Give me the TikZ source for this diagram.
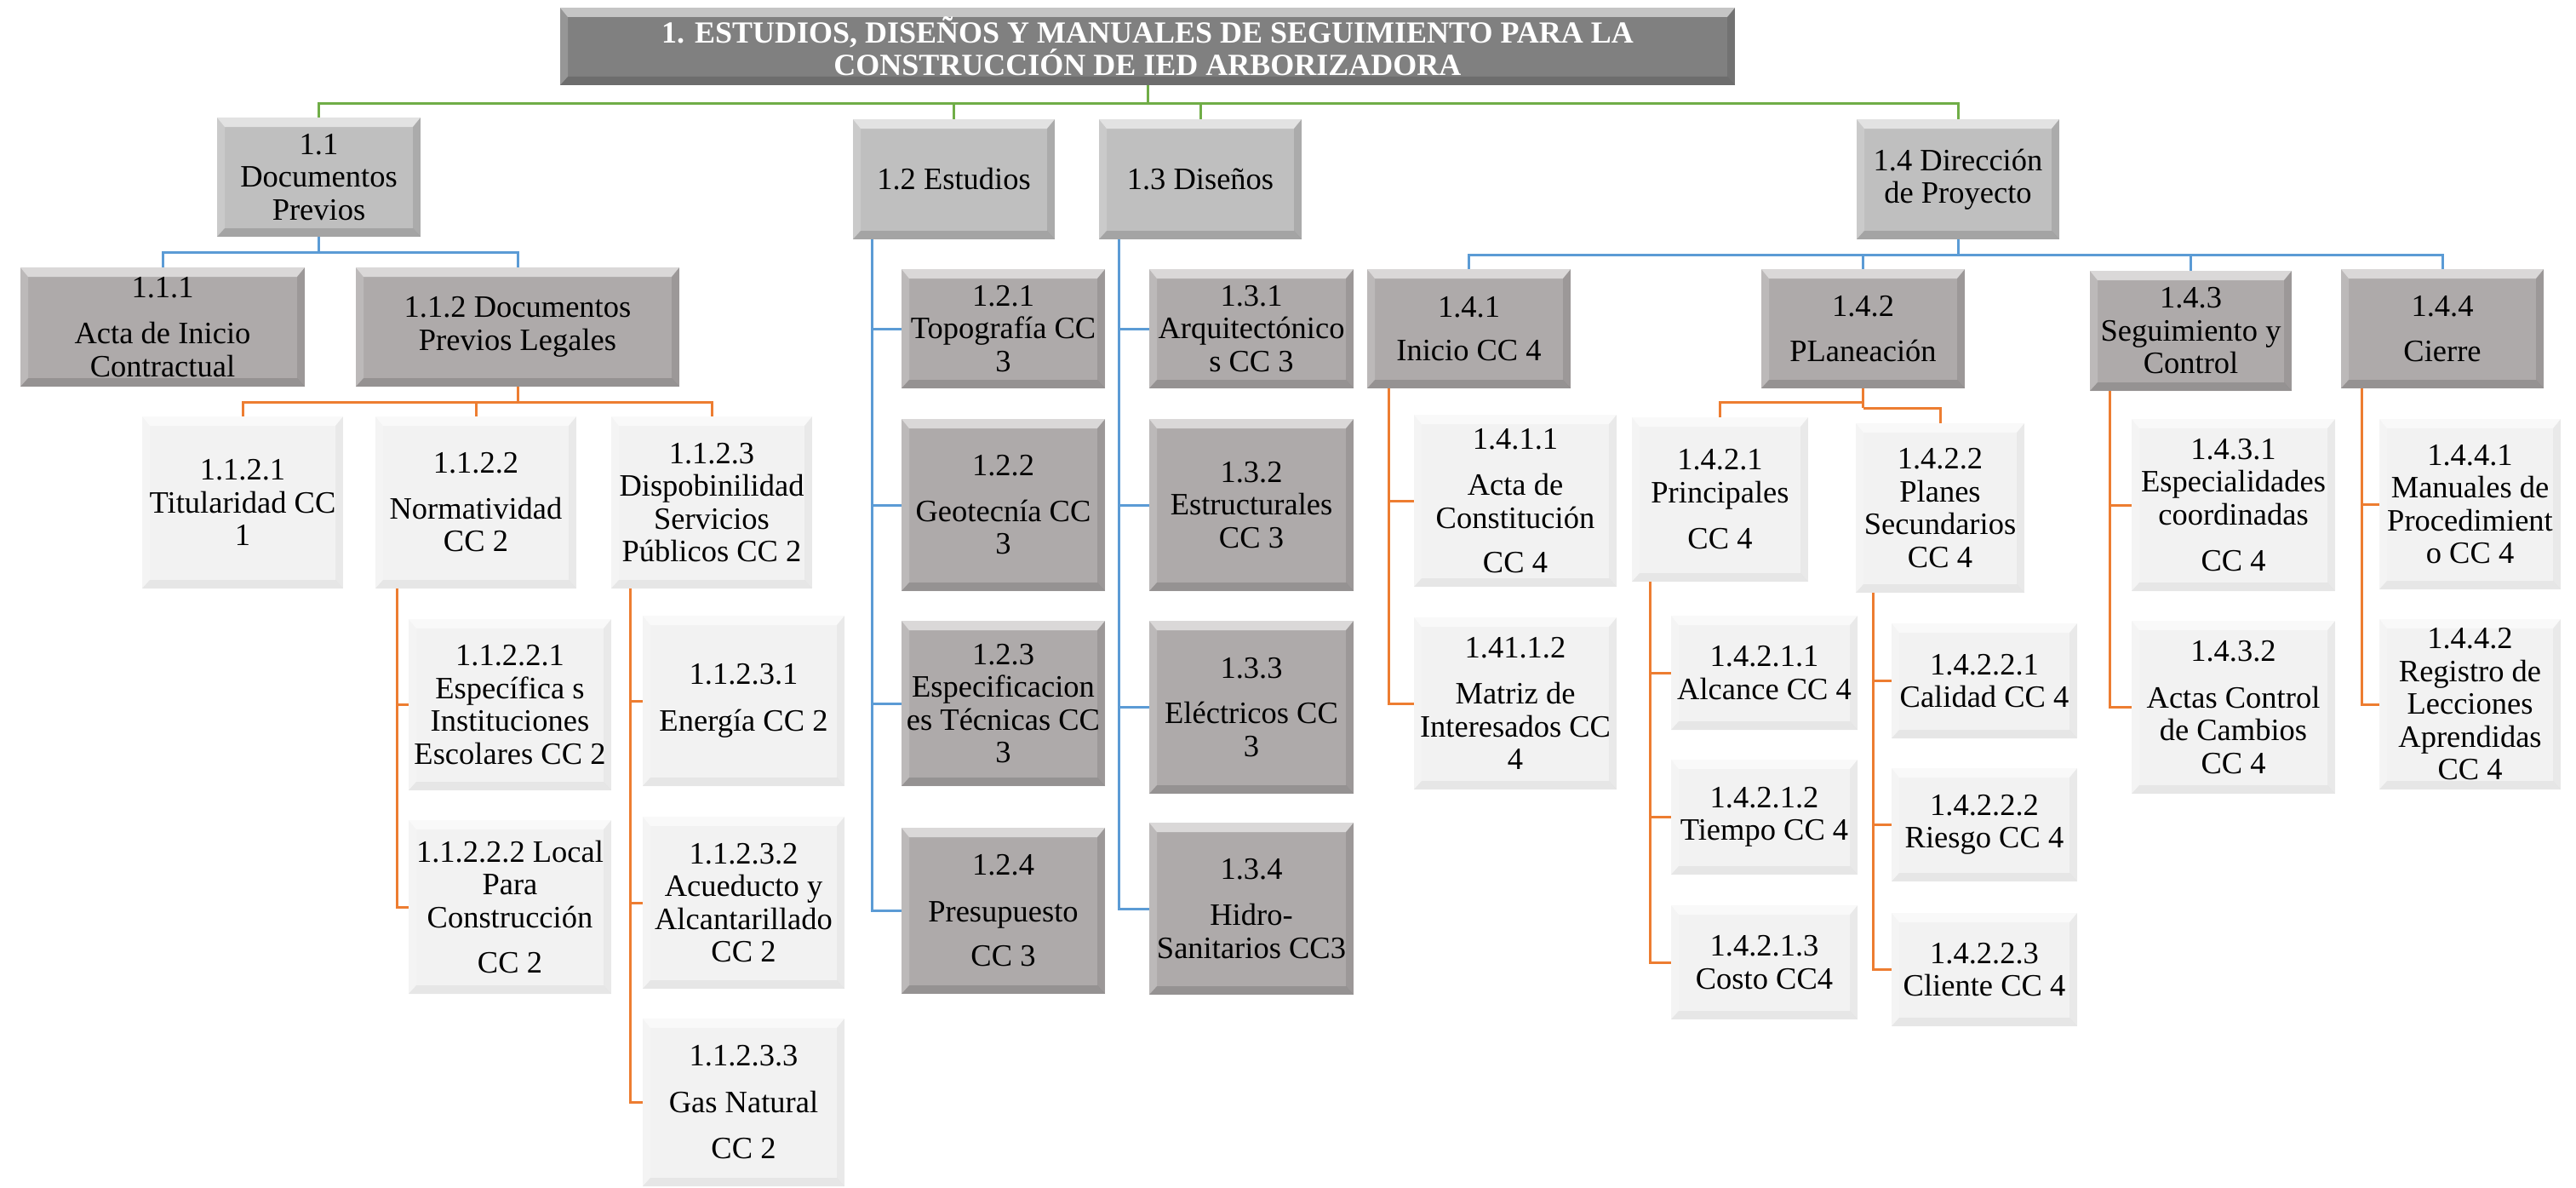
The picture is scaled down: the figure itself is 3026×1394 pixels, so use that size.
\documentclass[tikz,border=0pt]{standalone}
\usepackage{fontspec}
\setmainfont{Liberation Serif}
\definecolor{cgreen}{HTML}{70AD47}
\definecolor{cblue}{HTML}{5B9BD5}
\definecolor{corange}{HTML}{ED7D31}
\definecolor{ctitle}{HTML}{808080}
\definecolor{clvb}{HTML}{BFBFBF}
\definecolor{clvc}{HTML}{AEAAAA}
\definecolor{clvd}{HTML}{F2F2F2}
\tikzset{
  bevel/.style={path picture={
    \coordinate (pnw) at (path picture bounding box.north west);
    \coordinate (pne) at (path picture bounding box.north east);
    \coordinate (psw) at (path picture bounding box.south west);
    \coordinate (pse) at (path picture bounding box.south east);
    \fill[white,opacity=0.55] (pnw) -- (pne) -- ([shift={(-9pt,-11pt)}]pne) -- ([shift={(9pt,-11pt)}]pnw) -- cycle;
    \fill[white,opacity=0.18] (pnw) -- ([shift={(9pt,-11pt)}]pnw) -- ([shift={(9pt,10pt)}]psw) -- (psw) -- cycle;
    \fill[black,opacity=#1*0.10] (pne) -- ([shift={(-9pt,-11pt)}]pne) -- ([shift={(-9pt,10pt)}]pse) -- (pse) -- cycle;
    \fill[black,opacity=#1*0.14] (psw) -- (pse) -- ([shift={(-9pt,10pt)}]pse) -- ([shift={(9pt,10pt)}]psw) -- cycle;
  }},
  box/.style={draw=none, inner sep=0pt, outer sep=0pt, align=center,
    font=\fontsize{36.5}{38.5}\selectfont},
  lvT/.style={box, bevel=1, fill=ctitle, text=white, font=\bfseries\fontsize{36}{38}\selectfont},
  lvB/.style={box, bevel=1, fill=clvb},
  lvC/.style={box, bevel=1, fill=clvc},
  lvD/.style={box, bevel=0.35, fill=clvd},
  conn/.style={line width=3pt},
  gl/.style={conn, draw=cgreen},
  bl/.style={conn, draw=cblue},
  ol/.style={conn, draw=corange},
}
\newcommand\wbs[7]{%
  \pgfmathsetmacro\wbcx{(#3+#5)/2}%
  \pgfmathsetmacro\wbcy{(#4+#6)/2}%
  \pgfmathsetmacro\wbww{#5-#3}%
  \pgfmathsetmacro\wbhh{#6-#4}%
  \node[#2, minimum width=\wbww pt, minimum height=\wbhh pt] (#1) at (\wbcx,\wbcy) {#7};}
\begin{document}
\begin{tikzpicture}[x=1pt,y=-1pt]
\useasboundingbox[fill=white] (0,0) rectangle (3026,1394);
% title
\wbs{title}{lvT}{658}{9}{2038}{100}{1. ESTUDIOS, DISEÑOS Y MANUALES DE SEGUIMIENTO PARA LA\\CONSTRUCCIÓN DE IED ARBORIZADORA}
% level 2
\wbs{n11}{lvB}{255}{138}{494}{278}{1.1\\Documentos\\Previos}
\wbs{n12}{lvB}{1002}{140}{1239}{281}{1.2 Estudios}
\wbs{n13}{lvB}{1291}{140}{1529}{281}{1.3 Diseños}
\wbs{n14}{lvB}{2181}{140}{2419}{281}{1.4 Dirección\\de Proyecto}
% level 3
\wbs{n111}{lvC}{24}{314}{358}{454}{1.1.1\\[16pt]Acta de Inicio\\Contractual}
\wbs{n112}{lvC}{418}{314}{798}{454}{1.1.2 Documentos\\Previos Legales}
\wbs{n121}{lvC}{1059}{316}{1298}{456}{1.2.1\\Topografía CC\\3}
\wbs{n122}{lvC}{1059}{492}{1298}{694}{1.2.2\\[15pt]Geotecnía CC\\3}
\wbs{n123}{lvC}{1059}{729}{1298}{923}{1.2.3\\Especificacion\\es Técnicas CC\\3}
\wbs{n124}{lvC}{1059}{972}{1298}{1167}{1.2.4\\[16pt]Presupuesto\\[14pt]CC 3}
\wbs{n131}{lvC}{1350}{316}{1590}{456}{1.3.1\\Arquitectónico\\s CC 3}
\wbs{n132}{lvC}{1350}{492}{1590}{694}{1.3.2\\Estructurales\\CC 3}
\wbs{n133}{lvC}{1350}{729}{1590}{932}{1.3.3\\[15pt]Eléctricos CC\\3}
\wbs{n134}{lvC}{1350}{966}{1590}{1168}{1.3.4\\[16pt]Hidro-\\Sanitarios CC3}
\wbs{n141}{lvC}{1606}{316}{1845}{456}{1.4.1\\[13pt]Inicio CC 4}
\wbs{n142}{lvC}{2069}{316}{2308}{456}{1.4.2\\[15pt]PLaneación}
\wbs{n143}{lvC}{2455}{318}{2692}{459}{1.4.3\\Seguimiento y\\Control}
\wbs{n144}{lvC}{2750}{316}{2988}{456}{1.4.4\\[15pt]Cierre}
% level 4
\wbs{n1121}{lvD}{167}{489}{403}{691}{1.1.2.1\\Titularidad CC\\1}
\wbs{n1122}{lvD}{441}{489}{677}{691}{1.1.2.2\\[15pt]Normatividad\\CC 2}
\wbs{n1123}{lvD}{718}{489}{954}{691}{1.1.2.3\\Dispobinilidad\\Servicios\\Públicos CC 2}
\wbs{n11221}{lvD}{480}{727}{718}{928}{1.1.2.2.1\\Específica s\\Instituciones\\Escolares CC 2}
\wbs{n11222}{lvD}{480}{963}{718}{1167}{1.1.2.2.2 Local\\Para\\Construcción\\[15pt]CC 2}
\wbs{n11231}{lvD}{755}{723}{992}{923}{1.1.2.3.1\\[16pt]Energía CC 2}
\wbs{n11232}{lvD}{755}{959}{992}{1161}{1.1.2.3.2\\Acueducto y\\Alcantarillado\\CC 2}
\wbs{n11233}{lvD}{755}{1196}{992}{1393}{1.1.2.3.3\\[16pt]Gas Natural\\[16pt]CC 2}
\wbs{n1411}{lvD}{1661}{487}{1899}{689}{1.4.1.1\\[16pt]Acta de\\Constitución\\[14pt]CC 4}
\wbs{n1412}{lvD}{1661}{725}{1899}{927}{1.41.1.2\\[16pt]Matriz de\\Interesados CC\\4}
\wbs{n1421}{lvD}{1917}{490}{2124}{683}{1.4.2.1\\Principales\\[16pt]CC 4}
\wbs{n1422}{lvD}{2180}{497}{2378}{696}{1.4.2.2\\Planes\\Secundarios\\CC 4}
\wbs{n14211}{lvD}{1963}{723}{2182}{857}{1.4.2.1.1\\Alcance CC 4}
\wbs{n14212}{lvD}{1963}{892}{2182}{1027}{1.4.2.1.2\\Tiempo CC 4}
\wbs{n14213}{lvD}{1963}{1063}{2182}{1197}{1.4.2.1.3\\Costo CC4}
\wbs{n14221}{lvD}{2222}{732}{2440}{867}{1.4.2.2.1\\Calidad CC 4}
\wbs{n14222}{lvD}{2222}{902}{2440}{1035}{1.4.2.2.2\\Riesgo CC 4}
\wbs{n14223}{lvD}{2222}{1072}{2440}{1205}{1.4.2.2.3\\Cliente CC 4}
\wbs{n1431}{lvD}{2504}{492}{2743}{694}{1.4.3.1\\Especialidades\\coordinadas\\[16pt]CC 4}
\wbs{n1432}{lvD}{2504}{729}{2743}{932}{1.4.3.2\\[16pt]Actas Control\\de Cambios\\CC 4}
\wbs{n1441}{lvD}{2795}{492}{3008}{692}{1.4.4.1\\Manuales de\\Procedimient\\o CC 4}
\wbs{n1442}{lvD}{2795}{727}{3008}{927}{1.4.4.2\\Registro de\\Lecciones\\Aprendidas\\CC 4}
% bus coordinates
\coordinate (gbus) at (0,122);
\coordinate (b11) at (0,296);
\coordinate (o112) at (0,472);
\coordinate (b14) at (0,299);
\coordinate (o142a) at (0,472);
\coordinate (o142b) at (0,479);
% green
\draw[gl] (title.south) -- (title.south |- gbus);
\foreach \n in {n11,n12,n13,n14} \draw[gl] (title.south |- gbus) -| (\n.north);
% blue under 1.1
\draw[bl] (n11.south) -- (n11.south |- b11);
\foreach \n in {n111,n112} \draw[bl] (n11.south |- b11) -| (\n.north);
% orange under 1.1.2
\draw[ol] (n112.south) -- (n112.south |- o112);
\foreach \n in {n1121,n1122,n1123} \draw[ol] (n112.south |- o112) -| (\n.north);
% side connectors
\foreach \n in {n11221,n11222} \draw[ol] ([xshift=25pt]n1122.south west) |- (\n.west);
\foreach \n in {n11231,n11232,n11233} \draw[ol] ([xshift=22pt]n1123.south west) |- (\n.west);
\foreach \n in {n121,n122,n123,n124} \draw[bl] ([xshift=22pt]n12.south west) |- (\n.west);
\foreach \n in {n131,n132,n133,n134} \draw[bl] ([xshift=23pt]n13.south west) |- (\n.west);
% blue under 1.4
\draw[bl] (n14.south) -- (n14.south |- b14);
\foreach \n in {n141,n142,n143,n144} \draw[bl] (n14.south |- b14) -| (\n.north);
% orange under 1.4.x
\foreach \n in {n1411,n1412} \draw[ol] ([xshift=25pt]n141.south west) |- (\n.west);
\draw[ol] (n142.south) -- (n142.south |- o142b);
\draw[ol] (n142.south |- o142a) -| (n1421.north);
\draw[ol] (n142.south |- o142b) -| (n1422.north);
\foreach \n in {n14211,n14212,n14213} \draw[ol] ([xshift=21pt]n1421.south west) |- (\n.west);
\foreach \n in {n14221,n14222,n14223} \draw[ol] ([xshift=20pt]n1422.south west) |- (\n.west);
\foreach \n in {n1431,n1432} \draw[ol] ([xshift=23pt]n143.south west) |- (\n.west);
\foreach \n in {n1441,n1442} \draw[ol] ([xshift=24pt]n144.south west) |- (\n.west);
\end{tikzpicture}
\end{document}
